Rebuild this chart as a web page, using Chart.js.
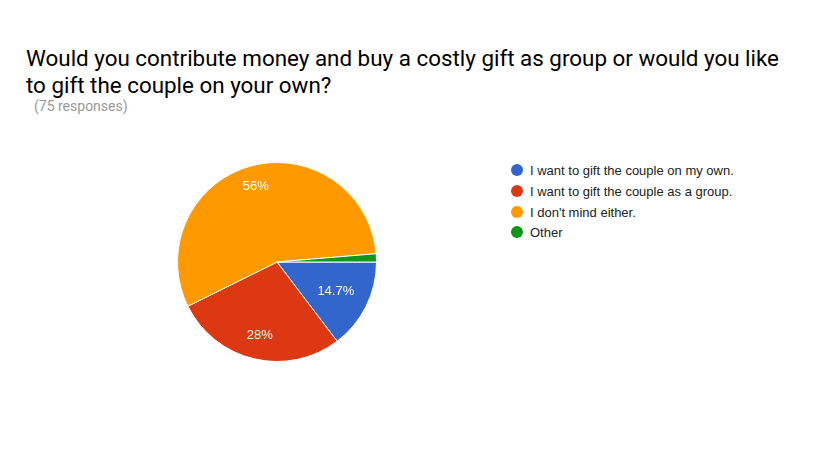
<!DOCTYPE html>
<html>
<head>
<meta charset="utf-8">
<script src="https://cdn.jsdelivr.net/npm/chart.js@4"></script>
<style>
  html, body { margin: 0; padding: 0; background: #fff; }
  body { width: 827px; height: 464px; position: relative; overflow: hidden; }
  #title { position: absolute; left: 26px; top: 45px; width: 790px; font: 22.4px Roboto, sans-serif; line-height: 27px; color: #000; white-space: nowrap; }
  #sub { position: absolute; left: 34px; top: 98px; font: 14px Roboto, sans-serif; color: #999; }
  #pieBox { position: absolute; left: 177px; top: 162px; width: 200px; height: 200px; }
  #legend { position: absolute; left: 510px; top: 160px; font: 13px "Liberation Sans", Arial, sans-serif; color: #222; }
  .row { height: 20.8px; line-height: 21px; position: relative; padding-left: 20px; white-space: nowrap; }
  .dot { position: absolute; left: 1px; top: 4px; width: 12px; height: 12px; border-radius: 50%; }
</style>
</head>
<body>
<div id="title"></div>
<div id="sub">(75 responses)</div>
<div id="pieBox"><canvas id="c"></canvas></div>
<div id="legend"></div>
<script>
const titleLines = ["Would you contribute money and buy a costly gift as group or would you like", "to gift the couple on your own?"];
const categories = ["I want to gift the couple on my own.", "I want to gift the couple as a group.", "I don't mind either.", "Other"];
const responses = [11, 21, 42, 1];
const percentLabels = ["14.7%", "28%", "56%", ""];
const colors = ["#3366cc", "#dc3912", "#ff9900", "#109618"];

const titleEl = document.getElementById('title');
titleLines.forEach((t, i) => {
  if (i) titleEl.appendChild(document.createElement('br'));
  titleEl.appendChild(document.createTextNode(t));
});

const legend = document.getElementById('legend');
categories.forEach((c, i) => {
  const r = document.createElement('div');
  r.className = 'row';
  const d = document.createElement('span');
  d.className = 'dot';
  d.style.background = colors[i];
  r.appendChild(d);
  r.appendChild(document.createTextNode(c));
  legend.appendChild(r);
});

const labelPlugin = {
  id: 'sliceLabels',
  afterDatasetsDraw(chart, args, opts) {
    const ctx = chart.ctx;
    const meta = chart.getDatasetMeta(0);
    ctx.save();
    ctx.fillStyle = '#fff';
    ctx.font = '13px "Liberation Sans", Arial, sans-serif';
    ctx.textAlign = 'center';
    ctx.textBaseline = 'middle';
    meta.data.forEach((arc, i) => {
      const t = percentLabels[i];
      if (!t) return;
      const p = arc.getProps(['x', 'y', 'startAngle', 'endAngle', 'outerRadius'], true);
      const mid = (p.startAngle + p.endAngle) / 2;
      const f = opts.radii[i];
      ctx.fillText(t, p.x + Math.cos(mid) * p.outerRadius * f, p.y + Math.sin(mid) * p.outerRadius * f);
    });
    ctx.restore();
  }
};

new Chart(document.getElementById('c'), {
  type: 'pie',
  data: {
    labels: categories,
    datasets: [{
      data: responses,
      backgroundColor: colors,
      borderColor: '#fff',
      borderWidth: 1
    }]
  },
  options: {
    responsive: true,
    maintainAspectRatio: false,
    animation: false,
    rotation: 90,
    layout: { padding: 0 },
    plugins: {
      legend: { display: false },
      tooltip: { enabled: false },
      title: { display: false },
      sliceLabels: { radii: [0.66, 0.76, 0.79, 0.7] }
    }
  },
  plugins: [labelPlugin]
});
</script>
</body>
</html>
